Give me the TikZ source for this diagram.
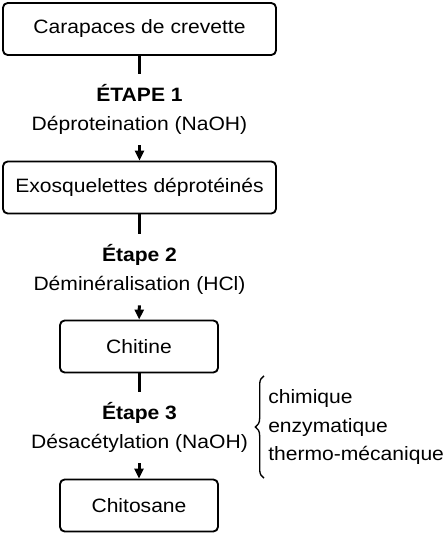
\documentclass[tikz,border=0pt]{standalone}
\usepackage{fontspec}
\setmainfont{Liberation Sans}[FakeStretch=1.09]
\usepackage{tikz}
\usetikzlibrary{positioning, arrows.meta, decorations.pathreplacing}

\begin{document}
\begin{tikzpicture}[x=0.75pt,y=-0.75pt,>={Triangle[length=7.5pt,width=6.75pt]},
  box/.style={draw,line width=1.4pt,rounded corners=3.5pt,minimum height=39pt,
              font=\fontsize{14.5}{21.4}\selectfont},
  wide/.style={box,minimum width=204.75pt},
  narrow/.style={box,minimum width=118.5pt},
  etape/.style={align=center,inner xsep=0pt,inner ysep=8pt,
                font=\fontsize{14.5}{21.4}\selectfont},
  link/.style={line width=2.25pt}]
  \useasboundingbox (0,0) rectangle (443,535);
  % boxes
  \node[wide] (carapaces) at (139.5,29) {Carapaces de crevette};
  \node[wide] (exosquelettes) at (139.5,187.5) {Exosquelettes déprotéinés};
  \node[narrow] (chitine) at (139,346.5) {Chitine};
  \node[narrow] (chitosane) at (139,505.5) {Chitosane};
  % steps
  \node[etape] (etape1) at (139.5,109.5) {\textbf{ÉTAPE 1}\\Déproteination (NaOH)};
  \node[etape] (etape2) at (139.5,269.5) {\textbf{Étape 2}\\Déminéralisation (HCl)};
  \node[etape] (etape3) at (139.5,427.7) {\textbf{Étape 3}\\Désacétylation (NaOH)};
  \node[etape,align=left,inner ysep=10pt,anchor=west] (methodes) at (268,427)
    {chimique\\enzymatique\\thermo-mécanique};
  % links
  \draw[link] (carapaces) -- (etape1);
  \draw[link,->] (etape1) -- (exosquelettes);
  \draw[link] (exosquelettes) -- (etape2);
  \draw[link,->] (etape2) -- (chitine);
  \draw[link] (chitine.south) -- (chitine.south |- etape3.north);
  \draw[link,->] (chitine.south |- etape3.south) -- (chitosane);
  \draw[line width=1pt,decorate,decoration={brace,amplitude=6.5pt}]
    ([xshift=-3pt]methodes.south west) -- ([xshift=-3pt]methodes.north west);
\end{tikzpicture}
\end{document}
